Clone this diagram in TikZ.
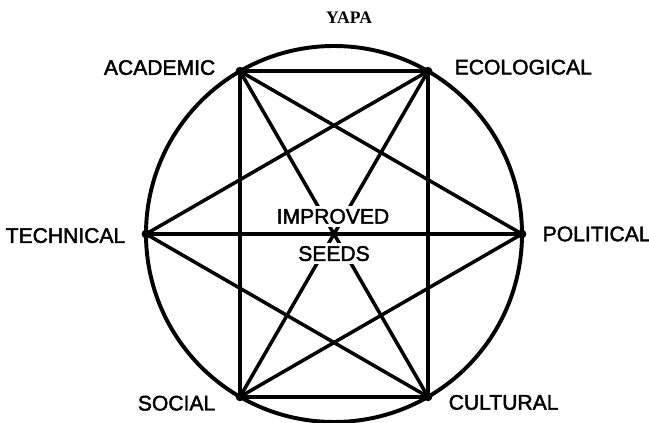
\documentclass[tikz,border=0pt]{standalone}
\usepackage{fontspec}
\setmainfont{Liberation Sans}[FakeBold=2]
\newfontfamily\headfont{Liberation Serif}
\usetikzlibrary{positioning}

\begin{document}
\begin{tikzpicture}[line width=2.5pt, line join=round, line cap=round,
  lbl/.style={font=\fontsize{15}{18}\selectfont, inner sep=0pt}]
  \useasboundingbox (-8.35,-4.725) rectangle (7.875,5.85);

  % 外圆
  \draw[line width=2.8pt] (0,0) circle (4.7);

  % 六个顶点
  \coordinate (aca) at (120:4.7);
  \coordinate (eco) at (60:4.7);
  \coordinate (pol) at (0:4.7);
  \coordinate (cul) at (-60:4.7);
  \coordinate (soc) at (-120:4.7);
  \coordinate (tec) at (180:4.7);

  % 矩形与各条连线
  \draw (aca) -- (eco) -- (cul) -- (soc) -- cycle;
  \draw (aca) -- (cul);
  \draw (eco) -- (soc);
  \draw (aca) -- (pol) -- (soc);
  \draw (eco) -- (tec) -- (cul);
  \draw (tec) -- (pol);

  % 中心文字（白底遮住对角线）
  \node[lbl, fill=white, inner sep=0.075cm] (imp) at (-0.025,0.44) {IMPROVED};
  \node[lbl, fill=white, inner sep=0.075cm] (seeds) at (0,-0.49) {SEEDS};

  % 顶点圆点
  \foreach \p in {aca,eco,pol,cul,soc,tec}
    \fill (\p) circle (0.11);

  % 顶点标签
  \node[lbl, left=0.575cm of aca, yshift=0.09cm] (aca-l) {ACADEMIC};
  \node[lbl, right=0.625cm of eco, yshift=0.1cm] (eco-l) {ECOLOGICAL};
  \node[lbl, left=0.475cm of tec, yshift=-0.04cm] (tec-l) {TECHNICAL};
  \node[lbl, right=0.475cm of pol] (pol-l) {POLITICAL};
  \node[lbl, left=0.575cm of soc, yshift=-0.16cm] (soc-l) {SOCIAL};
  \node[lbl, right=0.475cm of cul, yshift=-0.14cm] (cul-l) {CULTURAL};

  % 页眉
  \node[font=\headfont\bfseries\fontsize{12.5}{15}\selectfont] (head) at (0.375,5.41) {YAPA};
\end{tikzpicture}
\end{document}
